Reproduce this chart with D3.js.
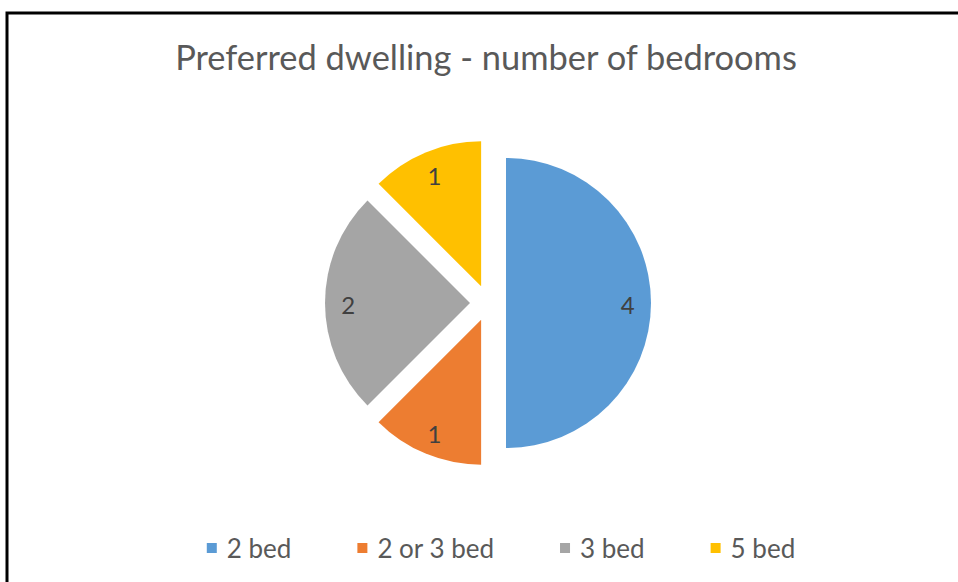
<!DOCTYPE html>
<html>
<head>
<meta charset="utf-8">
<script src="https://cdn.jsdelivr.net/npm/d3@7"></script>
<style>
  html, body { margin: 0; padding: 0; background: #fff; }
  svg { display: block; }
  text { font-family: Lato, "Open Sans", sans-serif; }
</style>
</head>
<body>
<div id="pie-chart"></div>
<script>
// Data
const categories = ["2 bed", "2 or 3 bed", "3 bed", "5 bed"];
const counts = [4, 1, 2, 1];
const sliceColors = ["#5B9BD5", "#ED7D31", "#A5A5A5", "#FFC000"];
const chartTitle = "Preferred dwelling - number of bedrooms";

const drawPie = () => {
    const width = 958;
    const height = 582;
    const cx = 488, cy = 303;
    const radius = 145;
    const explode = 18;

    const svg = d3.select("#pie-chart")
        .append("svg")
        .attr("width", width)
        .attr("height", height);

    // frame (only top and left edges are visible in the crop)
    svg.append("rect")
        .attr("x", 7)
        .attr("y", 13)
        .attr("width", width + 20)
        .attr("height", height + 20)
        .attr("fill", "none")
        .attr("stroke", "#000")
        .attr("stroke-width", 3);

    // title, fitted to the width it takes in the reference
    const title = svg.append("text")
        .attr("x", 486)
        .attr("y", 70)
        .attr("text-anchor", "middle")
        .attr("fill", "#595959")
        .style("font-size", "32px")
        .text(chartTitle);
    const tw = title.node().getComputedTextLength();
    title.style("font-size", (32 * 622 / tw).toFixed(2) + "px");

    const data = categories.map((c, i) => ({ name: c, value: counts[i], color: sliceColors[i] }));

    const pie = d3.pie()
        .value(d => d.value)
        .sort(null);

    const arc = d3.arc()
        .innerRadius(0)
        .outerRadius(radius);

    const arcs = pie(data);

    const slices = svg.append("g")
        .attr("transform", `translate(${cx},${cy})`)
        .selectAll("g")
        .data(arcs)
        .join("g")
            .attr("transform", d => {
                const a = (d.startAngle + d.endAngle) / 2;
                return `translate(${explode * Math.sin(a)},${-explode * Math.cos(a)})`;
            });

    slices.append("path")
        .attr("d", arc)
        .attr("fill", d => d.data.color);

    slices.append("text")
        .attr("x", d => 0.84 * radius * Math.sin((d.startAngle + d.endAngle) / 2))
        .attr("y", d => -0.84 * radius * Math.cos((d.startAngle + d.endAngle) / 2))
        .attr("dy", "0.45em")
        .attr("text-anchor", "middle")
        .attr("fill", "#404040")
        .style("font-size", "24px")
        .text(d => d.data.value);

    // legend
    const legend = svg.append("g");
    const items = legend.selectAll("g")
        .data(data)
        .join("g");

    items.append("rect")
        .attr("width", 10)
        .attr("height", 10)
        .attr("y", -5)
        .attr("fill", d => d.color);

    items.append("text")
        .attr("x", 20)
        .attr("dy", "0.38em")
        .attr("fill", "#595959")
        .style("font-size", "26px")
        .text(d => d.name);

    const gap = 66;
    let xPos = 0;
    items.each(function() {
        const g = d3.select(this);
        g.attr("transform", `translate(${xPos},0)`);
        xPos += 20 + g.select("text").node().getComputedTextLength() + gap;
    });
    const legendWidth = xPos - gap;
    legend.attr("transform", `translate(${501 - legendWidth / 2},548)`);
};

drawPie();
</script>
</body>
</html>
